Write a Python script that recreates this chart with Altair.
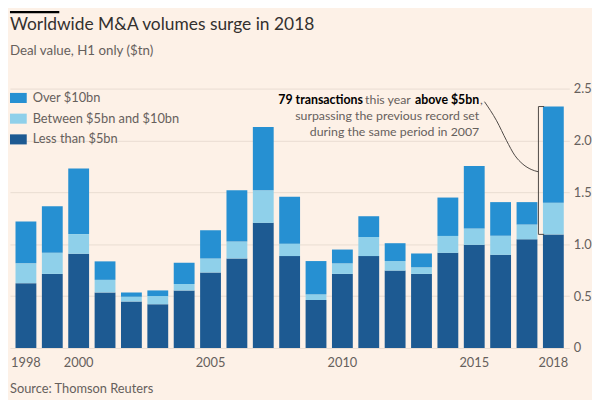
import altair as alt
import pandas as pd

years = [str(y) for y in range(1998, 2019)]
less_5 = [0.625, 0.714, 0.908, 0.536, 0.448, 0.422, 0.555, 0.727, 0.863, 1.206, 0.886,
          0.463, 0.714, 0.886, 0.746, 0.714, 0.917, 0.994, 0.898, 1.048, 1.095]
between_5_10 = [0.191, 0.203, 0.190, 0.121, 0.047, 0.079, 0.061, 0.136, 0.163, 0.314, 0.120,
                0.054, 0.102, 0.184, 0.092, 0.064, 0.163, 0.158, 0.184, 0.142, 0.305]
over_10 = [0.404, 0.448, 0.632, 0.178, 0.041, 0.054, 0.206, 0.273, 0.494, 0.610, 0.451,
           0.321, 0.133, 0.200, 0.172, 0.133, 0.370, 0.603, 0.324, 0.216, 0.927]

categories = ["Over $10bn", "Between $5bn and $10bn", "Less than $5bn"]
colors = ["#2690d2", "#8fd0ea", "#1d5a92"]
x_tick_labels = ["1998", "2000", "2005", "2010", "2015", "2018"]
y_ticks = [0, 0.5, 1.0, 1.5, 2.0, 2.5]

title = "Worldwide M&A volumes surge in 2018"
subtitle = "Deal value, H1 only ($tn)"
source = "Source: Thomson Reuters"

# connector curve (pixel x, value y)
curve_x = [481, 493.3, 503.3, 511.7, 520, 528.3, 535.7]
curve_y = [2.374, 2.190, 2.000, 1.857, 1.771, 1.721, 1.698]

BG = "#fdf1e7"
GREY = "#66605c"
DARK = "#33302e"
FONT = "Lato"

rows = []
for i, y in enumerate(years):
    rows.append({"year": y, "cat": categories[2], "value": less_5[i], "ord": 0})
    rows.append({"year": y, "cat": categories[1], "value": between_5_10[i], "ord": 1})
    rows.append({"year": y, "cat": categories[0], "value": over_10[i], "ord": 2})
df = pd.DataFrame(rows)

bars = alt.Chart(df).mark_bar().encode(
    x=alt.X("year:O",
            scale=alt.Scale(paddingInner=0.21, paddingOuter=0.21),
            axis=alt.Axis(values=x_tick_labels, labelAngle=0, title=None, domain=False,
                          ticks=False, tickSize=0, labelPadding=9, labelColor=GREY,
                          labelFontSize=13, labelFont=FONT, grid=False)),
    y=alt.Y("value:Q", stack="zero",
            scale=alt.Scale(domain=[0, 2.5], nice=False),
            axis=alt.Axis(orient="right", values=y_ticks, title=None, domain=False,
                          ticks=False, tickSize=0, labelPadding=4, labelColor=GREY,
                          labelFontSize=13, labelFont=FONT, gridColor="#e9dcd2",
                          labelExpr="datum.value == 0 ? '0' : format(datum.value, '.1f')")),
    color=alt.Color("cat:N",
                    scale=alt.Scale(domain=categories, range=colors),
                    legend=alt.Legend(orient="none", legendX=0, legendY=1, title=None,
                                      symbolType="M-1,-0.6H1V0.6H-1Z", symbolSize=289,
                                      symbolStrokeWidth=0, labelFontSize=13, labelFont=FONT,
                                      labelColor=GREY, labelOffset=6, rowPadding=5,
                                      padding=0)),
    order=alt.Order("ord:Q"),
)

# bracket on 2018 bar (values from data)
top_2018 = less_5[-1] + between_5_10[-1] + over_10[-1]
bot_2018 = less_5[-1]
br_v = alt.Chart(pd.DataFrame({"y": [top_2018], "y2": [bot_2018]})).mark_rule(
    color="#4d4845", strokeWidth=1).encode(x=alt.value(535.7), y="y:Q", y2="y2:Q")
br_h = alt.Chart(pd.DataFrame({"y": [top_2018, bot_2018]})).mark_rule(
    color="#4d4845", strokeWidth=1).encode(x=alt.value(535.7), x2=alt.value(541.5), y="y:Q")

curve = alt.Chart(pd.DataFrame({"px": curve_x, "v": curve_y})).mark_line(
    color="#4d4845", strokeWidth=1, interpolate="monotone").encode(
    x=alt.X("px:Q", scale=alt.Scale(domain=[0, 567], nice=False, zero=False), axis=None),
    y=alt.Y("v:Q"),
)

def txt(s, x, y, size, color, weight="normal", align="left"):
    return alt.Chart(pd.DataFrame({"t": [s]})).mark_text(
        align=align, baseline="middle", fontSize=size, font=FONT, color=color,
        fontWeight=weight).encode(text="t:N", x=alt.value(x), y=alt.value(y))

bar_line = alt.Chart(pd.DataFrame({"a": [0]})).mark_rule(color="#000000", strokeWidth=2.5).encode(
    x=alt.value(0), x2=alt.value(50), y=alt.value(-77.5))

texts = [
    txt(title, 0, -64.3, 17.6, DARK),
    txt(subtitle, 0, -38.5, 13.5, GREY),
    txt(source, 0, 304.7, 13, GREY),
    txt("79 transactions", 272, 12, 12.5, "#000000", "bold", "left"),
    txt("this year", 360, 12, 12.5, GREY, "normal", "left"),
    txt("above $5bn", 410.5, 12, 12.5, "#000000", "bold", "left"),
    txt(",", 476.5, 12, 12.5, GREY, "normal", "left"),
    txt("surpassing the previous record set", 475.7, 28, 12.5, GREY, "normal", "right"),
    txt("during the same period in 2007", 475.7, 44.3, 12.5, GREY, "normal", "right"),
]

chart = alt.layer(bars, br_v, br_h, curve, bar_line, *texts).resolve_scale(
    x="independent"
).properties(
    width=567, height=263,
    padding={"left": 2, "top": 79, "right": 23, "bottom": 50},
    autosize="none",
    background=BG,
).configure_view(stroke=None)

chart.save("out.html", embed_options={"renderer": "svg", "actions": False})
